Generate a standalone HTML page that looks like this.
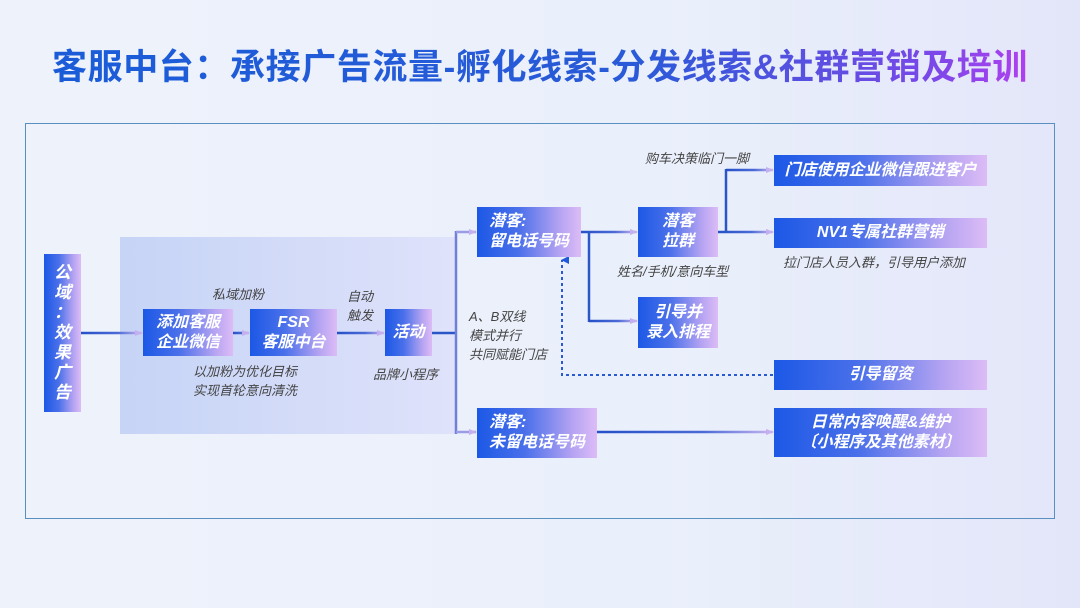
<!DOCTYPE html>
<html><head><meta charset="utf-8"><style>
*{margin:0;padding:0;box-sizing:border-box}
body{width:1080px;height:608px;overflow:hidden;position:relative;background:linear-gradient(90deg,#eef2fb 0%,#eaf0fb 60%,#e3e6f9 100%);font-family:"Liberation Sans","Noto Sans CJK SC",sans-serif}
.t{position:absolute;left:0;width:1080px;top:44px;text-align:center;font-size:35px;font-weight:bold;letter-spacing:0.6px;line-height:48px}
.t span{background:linear-gradient(90deg,#1a5cd8 0%,#2a5ad8 60%,#7a48e8 90%,#b040f0 100%);-webkit-background-clip:text;background-clip:text;color:transparent}
.frame{position:absolute;left:25px;top:123px;width:1030px;height:396px;border:1.5px solid #5a90c0}
.region{position:absolute;left:120px;top:237px;width:335px;height:197px;background:linear-gradient(90deg,#c6d4f6,#dfe2fa)}
.b{position:absolute;background:linear-gradient(90deg,#1c58e6 0%,#4a70ea 40%,#b6a4f2 80%,#dcbcf6 100%);color:#fff;font-weight:bold;font-style:italic;font-size:16px;line-height:20px;display:flex;align-items:center;justify-content:center;text-align:center}
.l{position:absolute;color:#444;font-style:italic;font-size:13px;line-height:19px;white-space:nowrap}
svg{position:absolute;left:0;top:0}
</style></head><body>
<div class="t"><span>客服中台：承接广告流量-孵化线索-分发线索&amp;社群营销及培训</span></div>
<div class="frame"></div>
<div class="region"></div>
<svg width="1080" height="608">
<defs>
<linearGradient id="g" x1="0" x2="1" y1="0" y2="0"><stop offset="0" stop-color="#2550c8"/><stop offset="0.6" stop-color="#4a6ad6"/><stop offset="1" stop-color="#c8b4f0"/></linearGradient>
<marker id="a" markerWidth="8" markerHeight="8" refX="7" refY="4" orient="auto" markerUnits="userSpaceOnUse"><path d="M0,1 L8,4 L0,7z" fill="#c4b0ee"/></marker>
<marker id="u" markerWidth="8" markerHeight="8" refX="4" refY="1" orient="auto" markerUnits="userSpaceOnUse"><path d="M0,8 L4,0 L8,8z" fill="#1f58d8"/></marker>
</defs>
<g stroke-width="2.5" fill="none">
<line x1="81" y1="333" x2="142" y2="333.01" stroke="url(#g)" marker-end="url(#a)"/>
<line x1="233" y1="333" x2="249" y2="333.01" stroke="url(#g)" marker-end="url(#a)"/>
<line x1="337" y1="333" x2="384" y2="333.01" stroke="url(#g)" marker-end="url(#a)"/>
<line x1="432" y1="333" x2="457" y2="333" stroke="#2a56c8"/>
<line x1="456" y1="231" x2="456" y2="434" stroke="#7080d8"/>
<line x1="456" y1="232" x2="476" y2="232.01" stroke="#9a9ce6" marker-end="url(#a)"/>
<line x1="456" y1="432" x2="476" y2="432.01" stroke="#9a9ce6" marker-end="url(#a)"/>
<line x1="581" y1="232" x2="637" y2="232.01" stroke="url(#g)" marker-end="url(#a)"/>
<line x1="589" y1="232" x2="589" y2="322" stroke="#2a56c8"/>
<line x1="589" y1="321" x2="637" y2="321.01" stroke="url(#g)" marker-end="url(#a)"/>
<line x1="718" y1="232" x2="773" y2="232.01" stroke="url(#g)" marker-end="url(#a)"/>
<line x1="726" y1="169" x2="726" y2="233" stroke="#2a56c8"/>
<line x1="726" y1="170" x2="773" y2="170.01" stroke="url(#g)" marker-end="url(#a)"/>
<line x1="597" y1="432" x2="773" y2="432.01" stroke="url(#g)" marker-end="url(#a)"/>
<path d="M773,375 L562,375 L562,260" stroke="#2a5ad0" stroke-dasharray="3,3" stroke-width="2" marker-end="url(#u)"/>
</g>
</svg>
<div class="b" style="left:44px;top:254px;width:37px;height:158px;flex-direction:column;font-size:17px;line-height:20px">公<br>域<br>：<br>效<br>果<br>广<br>告</div>
<div class="b" style="left:143px;top:309px;width:90px;height:47px">添加客服<br>企业微信</div>
<div class="b" style="left:250px;top:309px;width:87px;height:47px">FSR<br>客服中台</div>
<div class="b" style="left:385px;top:309px;width:47px;height:47px">活动</div>
<div class="b" style="left:477px;top:207px;width:104px;height:50px;justify-content:flex-start;text-align:left;padding-left:12px">潜客:<br>留电话号码</div>
<div class="b" style="left:638px;top:207px;width:80px;height:50px">潜客<br>拉群</div>
<div class="b" style="left:638px;top:297px;width:80px;height:51px">引导并<br>录入排程</div>
<div class="b" style="left:477px;top:408px;width:120px;height:50px;justify-content:flex-start;text-align:left;padding-left:12px">潜客:<br>未留电话号码</div>
<div class="b" style="left:774px;top:155px;width:213px;height:31px">门店使用企业微信跟进客户</div>
<div class="b" style="left:774px;top:218px;width:213px;height:30px">NV1专属社群营销</div>
<div class="b" style="left:774px;top:360px;width:213px;height:30px">引导留资</div>
<div class="b" style="left:774px;top:408px;width:213px;height:49px">日常内容唤醒&amp;维护<br>〔小程序及其他素材〕</div>
<div class="l" style="left:212px;top:285px">私域加粉</div>
<div class="l" style="left:347px;top:287px">自动<br>触发</div>
<div class="l" style="left:193px;top:362px;text-align:center">以加粉为优化目标<br>实现首轮意向清洗</div>
<div class="l" style="left:373px;top:365px">品牌小程序</div>
<div class="l" style="left:469px;top:307px">A、B双线<br>模式并行<br>共同赋能门店</div>
<div class="l" style="left:645px;top:149px">购车决策临门一脚</div>
<div class="l" style="left:617px;top:262px">姓名/手机/意向车型</div>
<div class="l" style="left:783px;top:253px">拉门店人员入群，引导用户添加</div>
</body></html>
